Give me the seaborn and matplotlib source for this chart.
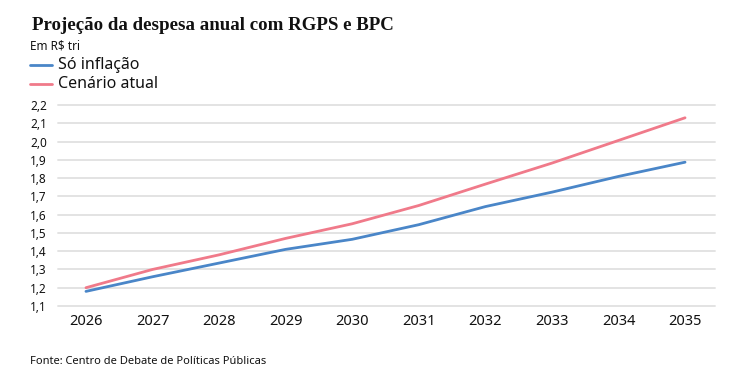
import pandas as pd
import matplotlib.pyplot as plt
import matplotlib.ticker as mticker
import seaborn as sns

# Dados (R$ trilhões)
anos = [2026, 2027, 2028, 2029, 2030, 2031, 2032, 2033, 2034, 2035]
so_inflacao = [1.18, 1.26, 1.335, 1.41, 1.465, 1.545, 1.644, 1.723, 1.809, 1.887]
cenario_atual = [1.20, 1.30, 1.38, 1.47, 1.55, 1.65, 1.767, 1.882, 2.006, 2.13]
series = ['Só inflação', 'Cenário atual']
cores = ['#4a86c8', '#f07a8a']

df = pd.DataFrame({
    'ano': anos * 2,
    'valor': so_inflacao + cenario_atual,
    'serie': [series[0]] * len(anos) + [series[1]] * len(anos),
})

sns.set_theme(style='white')
plt.rcParams['font.family'] = ['Noto Sans', 'DejaVu Sans']

fig = plt.figure(figsize=(7.37, 3.82), dpi=100)
ax = fig.add_axes([58 / 737, 1 - 306 / 382, (715 - 58) / 737, (306 - 105) / 382])

sns.lineplot(data=df, x='ano', y='valor', hue='serie', hue_order=series,
             palette=cores, linewidth=2, ax=ax, legend=False)

ax.set_xlim(2025.58, 2035.45)
ax.set_ylim(1.1, 2.2)
ax.set_yticks([1.1 + 0.1 * i for i in range(12)])
ax.set_xticks(anos)
ax.yaxis.set_major_formatter(mticker.FuncFormatter(lambda v, p: f'{v:.1f}'.replace('.', ',')))
ax.grid(axis='y', color='#e3e3e3', linewidth=1.4)
for gl in ax.get_ygridlines():
    gl.set_clip_on(False)
ax.set_axisbelow(True)
for s in ax.spines.values():
    s.set_visible(False)
ax.tick_params(axis='y', length=0, pad=8, labelsize=8.5, labelcolor='#111111')
ax.tick_params(axis='x', length=0, pad=6, labelsize=10.5, labelcolor='#111111')
ax.set_xlabel('')
ax.set_ylabel('')

# Título e legenda
fig.text(32 / 737, 1 - 25 / 382, 'Projeção da despesa anual com RGPS e BPC',
         family='Liberation Serif', fontweight='bold', fontsize=13.6, va='center', ha='left',
         color='#111111')
fig.text(30 / 737, 1 - 46 / 382, 'Em R$ tri', fontsize=8.5, va='center', ha='left',
         color='#111111')
for i, (nome, cor) in enumerate(zip(series, cores)):
    y = 1 - (65 + 19 * i) / 382
    fig.add_artist(plt.Line2D([30 / 737, 52 / 737], [y, y], color=cor, linewidth=2))
    fig.text(58 / 737, y, nome, fontsize=11.5, va='center', ha='left', color='#111111')

fig.text(30 / 737, 1 - 361 / 382, 'Fonte: Centro de Debate de Políticas Públicas',
         fontsize=8, va='center', ha='left', color='#111111')

plt.savefig('out.png', dpi=100)
